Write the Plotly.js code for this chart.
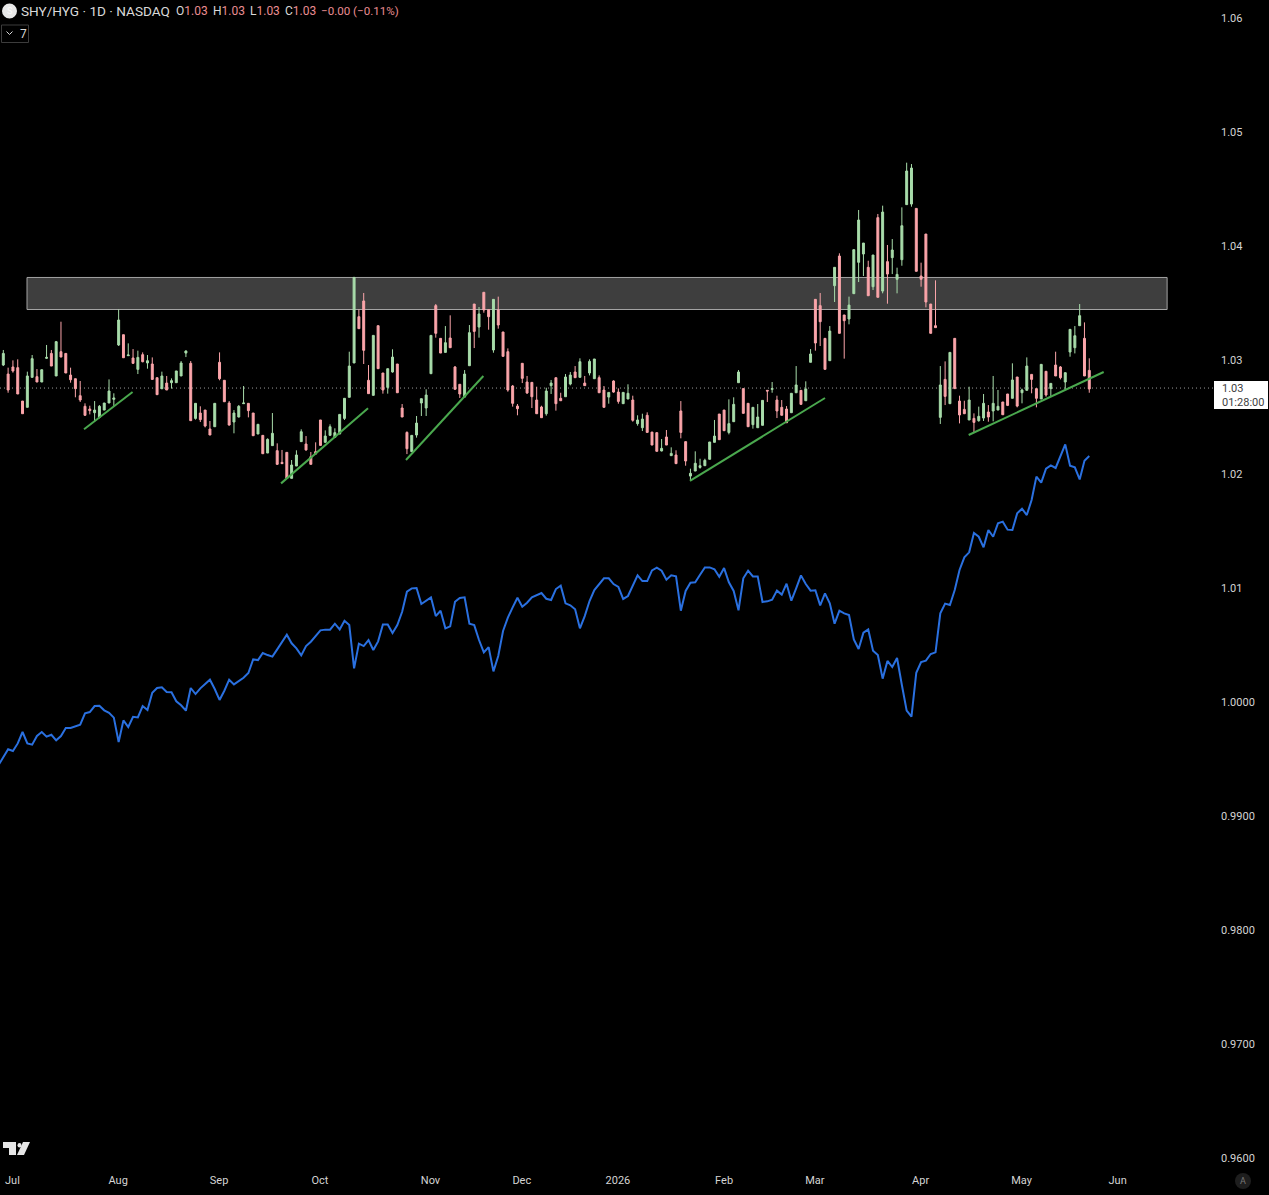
<!DOCTYPE html>
<html>
<head>
<meta charset="utf-8">
<script src="https://cdn.plot.ly/plotly-3.0.1.min.js"></script>
<style>html,body{margin:0;padding:0;background:#000;overflow:hidden}#chart{width:1269px;height:1195px}</style>
</head>
<body>
<div id="chart"></div>
<script>
const openPrice=[
1.02956,1.02877,1.02939,1.02933,1.02640,1.02585,1.02848,1.02854,1.02807,1.03015,
1.03058,1.02860,1.03073,1.03058,1.02868,1.02836,1.02687,1.02594,1.02570,1.02538,
1.02497,1.02561,1.02623,1.02655,1.03132,1.03222,1.03038,1.03018,1.02918,1.03047,
1.02974,1.02965,1.02845,1.02749,1.02798,1.02801,1.02801,1.02860,1.03061,1.02971,
1.02488,1.02535,1.02561,1.02395,1.02415,1.02980,1.02822,1.02623,1.02456,1.02500,
1.02617,1.02620,1.02535,1.02351,1.02339,1.02184,1.02249,1.02205,1.02102,1.02190,
1.01962,1.02070,1.02284,1.02263,1.02152,1.02196,1.02474,1.02278,1.02339,1.02322,
1.02351,1.02488,1.02673,1.02974,1.03380,1.03518,1.02822,1.02690,1.03301,1.02886,
1.02760,1.02895,1.02965,1.02579,1.02365,1.02196,1.02342,1.02623,1.02579,1.02880,
1.03477,1.03190,1.03067,1.03193,1.02939,1.02787,1.02675,1.02950,1.03491,1.03289,
1.03594,1.03442,1.03088,1.03439,1.03246,1.03073,1.02772,1.02596,1.02971,1.02807,
1.02804,1.02649,1.02588,1.02529,1.02775,1.02845,1.02664,1.02678,1.02789,1.02895,
1.02848,1.02798,1.02886,1.02836,1.02845,1.02737,1.02675,1.02816,1.02719,1.02617,
1.02658,1.02649,1.02442,1.02406,1.02515,1.02368,1.02363,1.02202,1.02325,1.02161,
1.02167,1.02553,1.02284,1.01982,1.02026,1.02058,1.02073,1.02129,1.02278,1.02526,
1.02561,1.02365,1.02459,1.02801,1.02749,1.02620,1.02433,1.02406,1.02427,1.02734,
1.02743,1.02649,1.02585,1.02570,1.02538,1.02713,1.02734,1.02643,1.02980,1.03532,
1.03477,1.03190,1.02994,1.03652,1.03912,1.03395,1.03360,1.03582,1.03857,1.03930,
1.03813,1.03643,1.04249,1.03605,1.03863,1.03898,1.03708,1.03880,1.04363,1.04368,
1.04330,1.03737,1.04105,1.03491,1.03301,1.02497,1.02830,1.02617,1.03190,1.02640,
1.02567,1.02474,1.02488,1.02468,1.02491,1.02544,1.02553,1.02561,1.02632,1.02702,
1.02664,1.02851,1.02713,1.02734,1.02874,1.02749,1.02658,1.02901,1.02749,1.02956,
1.02939,1.02807,1.03070,1.03108,1.03301,1.03190,1.02909];
const closePrice=[
1.03058,1.02737,1.02904,1.02702,1.02529,1.02860,1.03012,1.02807,1.02915,1.03023,
1.02947,1.03161,1.03026,1.02886,1.02827,1.02749,1.02649,1.02515,1.02556,1.02561,
1.02594,1.02623,1.02728,1.02667,1.03351,1.03020,1.03044,1.02971,1.03023,1.02985,
1.02994,1.02830,1.02696,1.02860,1.02737,1.02819,1.02904,1.02974,1.03079,1.02468,
1.02620,1.02477,1.02421,1.02342,1.02620,1.02836,1.02634,1.02430,1.02535,1.02594,
1.02623,1.02556,1.02336,1.02436,1.02178,1.02304,1.02357,1.02085,1.02091,1.01962,
1.02079,1.02167,1.02371,1.02211,1.02085,1.02175,1.02251,1.02333,1.02415,1.02363,
1.02523,1.02664,1.02947,1.03725,1.03275,1.03085,1.02705,1.03216,1.02924,1.02737,
1.02924,1.03026,1.02713,1.02500,1.02222,1.02339,1.02447,1.02661,1.02693,1.03216,
1.03234,1.03061,1.03152,1.03108,1.02743,1.02702,1.02877,1.03240,1.03251,1.03404,
1.03439,1.03380,1.03532,1.03307,1.03032,1.02737,1.02620,1.02573,1.02839,1.02711,
1.02678,1.02529,1.02494,1.02728,1.02798,1.02617,1.02643,1.02851,1.02868,1.02845,
1.02985,1.02775,1.02988,1.03009,1.02713,1.02585,1.02716,1.02719,1.02637,1.02716,
1.02708,1.02471,1.02474,1.02482,1.02365,1.02254,1.02199,1.02225,1.02254,1.02181,
1.02091,1.02365,1.02114,1.02006,1.02094,1.02073,1.02120,1.02281,1.02333,1.02301,
1.02380,1.02442,1.02611,1.02895,1.02532,1.02415,1.02585,1.02500,1.02646,1.02728,
1.02749,1.02553,1.02515,1.02450,1.02708,1.02781,1.02611,1.02746,1.03053,1.03149,
1.03336,1.02918,1.03254,1.03813,1.03234,1.03345,1.03482,1.03968,1.04228,1.04026,
1.03564,1.03921,1.03550,1.04298,1.03754,1.03965,1.03751,1.04178,1.04658,1.04684,
1.03778,1.03708,1.03509,1.03234,1.03284,1.02781,1.02681,1.03067,1.02749,1.02518,
1.02529,1.02649,1.02453,1.02506,1.02620,1.02500,1.02620,1.02594,1.02520,1.02602,
1.02825,1.02596,1.02737,1.02947,1.02830,1.02664,1.02962,1.02693,1.02795,1.02860,
1.02845,1.02889,1.03269,1.03213,1.03389,1.02860,1.02746];
const highPrice=[
1.03088,1.02933,1.02997,1.03006,1.02640,1.02898,1.03044,1.02921,1.02915,1.03132,
1.03088,1.03167,1.03336,1.03058,1.02933,1.02836,1.02816,1.02620,1.02599,1.02640,
1.02605,1.02623,1.02830,1.02708,1.03444,1.03222,1.03146,1.03096,1.03082,1.03067,
1.03044,1.03023,1.02845,1.02898,1.02860,1.02839,1.02904,1.02991,1.03085,1.02991,
1.02620,1.02594,1.02561,1.02465,1.02620,1.03067,1.02822,1.02640,1.02561,1.02605,
1.02772,1.02620,1.02535,1.02436,1.02339,1.02313,1.02535,1.02269,1.02211,1.02190,
1.02123,1.02208,1.02392,1.02333,1.02193,1.02278,1.02474,1.02383,1.02436,1.02401,
1.02523,1.02664,1.03073,1.03725,1.03444,1.03588,1.02956,1.03216,1.03301,1.02886,
1.02924,1.03094,1.02965,1.02614,1.02374,1.02339,1.02509,1.02661,1.02743,1.03216,
1.03491,1.03190,1.03298,1.03392,1.02947,1.02787,1.02912,1.03307,1.03491,1.03465,
1.03594,1.03442,1.03532,1.03556,1.03246,1.03102,1.02781,1.02614,1.02971,1.02860,
1.02804,1.02766,1.02599,1.02757,1.02825,1.02845,1.02713,1.02877,1.02895,1.02947,
1.03015,1.02860,1.03006,1.03009,1.02865,1.02772,1.02716,1.02822,1.02751,1.02716,
1.02787,1.02687,1.02515,1.02529,1.02541,1.02368,1.02363,1.02307,1.02386,1.02234,
1.02208,1.02640,1.02284,1.02047,1.02199,1.02134,1.02134,1.02281,1.02474,1.02526,
1.02561,1.02655,1.02673,1.02912,1.02749,1.02620,1.02585,1.02614,1.02646,1.02734,
1.02807,1.02687,1.02649,1.02596,1.02708,1.02947,1.02734,1.02813,1.03096,1.03532,
1.03588,1.03190,1.03298,1.03813,1.03936,1.03395,1.03556,1.03968,1.04316,1.04026,
1.03871,1.03921,1.04281,1.04354,1.04009,1.04061,1.03810,1.04339,1.04731,1.04719,
1.04330,1.03854,1.04105,1.03491,1.03699,1.02947,1.02988,1.03067,1.03190,1.02687,
1.02643,1.02766,1.02532,1.02591,1.02702,1.02605,1.02860,1.02737,1.02632,1.02702,
1.02971,1.02851,1.02749,1.03023,1.02874,1.02749,1.02962,1.02901,1.02795,1.03073,
1.02947,1.02889,1.03269,1.03298,1.03491,1.03330,1.03015];
const lowPrice=[
1.02947,1.02713,1.02889,1.02702,1.02529,1.02585,1.02848,1.02807,1.02807,1.03009,
1.02947,1.02860,1.03026,1.02886,1.02801,1.02673,1.02632,1.02512,1.02523,1.02459,
1.02488,1.02561,1.02623,1.02596,1.03123,1.03020,1.03035,1.02965,1.02877,1.02980,
1.02924,1.02825,1.02696,1.02743,1.02737,1.02749,1.02801,1.02860,1.03026,1.02468,
1.02477,1.02456,1.02409,1.02342,1.02415,1.02822,1.02634,1.02424,1.02357,1.02497,
1.02617,1.02497,1.02336,1.02351,1.02178,1.02184,1.02249,1.02079,1.02091,1.01962,
1.01962,1.02070,1.02284,1.02205,1.02085,1.02175,1.02249,1.02275,1.02339,1.02322,
1.02351,1.02474,1.02673,1.02974,1.03275,1.02965,1.02705,1.02690,1.02924,1.02705,
1.02705,1.02889,1.02713,1.02500,1.02175,1.02196,1.02319,1.02509,1.02509,1.02880,
1.03196,1.03061,1.03067,1.03108,1.02743,1.02667,1.02675,1.02950,1.03105,1.03196,
1.03415,1.03266,1.03064,1.03275,1.03032,1.02722,1.02591,1.02515,1.02798,1.02702,
1.02579,1.02529,1.02494,1.02512,1.02702,1.02556,1.02643,1.02678,1.02778,1.02845,
1.02848,1.02775,1.02865,1.02836,1.02713,1.02585,1.02617,1.02713,1.02617,1.02617,
1.02658,1.02459,1.02424,1.02377,1.02365,1.02254,1.02199,1.02199,1.02254,1.02161,
1.02091,1.02313,1.02073,1.01942,1.02026,1.02047,1.02073,1.02129,1.02278,1.02301,
1.02380,1.02348,1.02459,1.02801,1.02532,1.02415,1.02398,1.02406,1.02427,1.02632,
1.02713,1.02491,1.02515,1.02450,1.02538,1.02713,1.02611,1.02643,1.02980,1.03082,
1.03123,1.02918,1.02994,1.03509,1.03234,1.03012,1.03313,1.03582,1.03684,1.03737,
1.03564,1.03614,1.03550,1.03585,1.03494,1.03754,1.03585,1.03827,1.04363,1.04345,
1.03778,1.03643,1.03462,1.03234,1.03284,1.02439,1.02605,1.02617,1.02749,1.02444,
1.02526,1.02474,1.02363,1.02459,1.02465,1.02459,1.02462,1.02561,1.02520,1.02596,
1.02664,1.02585,1.02620,1.02734,1.02708,1.02585,1.02658,1.02678,1.02684,1.02860,
1.02830,1.02737,1.03029,1.03058,1.03301,1.02860,1.02713];
/* blue comparison line: first value is the session before the first candle */
const lineValue=[
0.99447,0.99520,0.99585,0.99570,0.99637,0.99737,0.99637,0.99626,0.99702,0.99737,0.99696,
0.99713,0.99664,0.99702,0.99772,0.99772,0.99789,0.99801,0.99901,0.99912,0.99965,
0.99968,0.99927,0.99906,0.99863,0.99649,0.99839,0.99781,0.99871,0.99865,0.99965,
0.99930,1.00082,1.00123,1.00129,1.00088,1.00085,1.00006,0.99971,0.99924,1.00123,
1.00070,1.00120,1.00155,1.00196,1.00114,1.00018,1.00099,1.00196,1.00155,1.00181,
1.00213,1.00254,1.00374,1.00368,1.00430,1.00412,1.00398,1.00462,1.00532,1.00591,
1.00515,1.00471,1.00409,1.00491,1.00529,1.00582,1.00629,1.00635,1.00635,1.00687,
1.00637,1.00713,1.00675,1.00295,1.00512,1.00491,1.00544,1.00456,1.00532,1.00681,
1.00681,1.00605,1.00675,1.00792,1.00968,1.00997,1.01000,1.00860,1.00889,1.00918,
1.00754,1.00801,1.00646,1.00664,1.00880,1.00912,1.00918,1.00687,1.00675,1.00544,
1.00436,1.00482,1.00269,1.00404,1.00623,1.00740,1.00830,1.00915,1.00836,1.00871,
1.00918,1.00936,1.00956,1.00906,1.00895,1.00991,1.01020,1.00866,1.00848,1.00813,
1.00646,1.00754,1.00886,1.00982,1.01035,1.01085,1.01085,1.01035,1.01009,1.00904,
1.00930,1.01023,1.01111,1.01061,1.01061,1.01155,1.01178,1.01152,1.01073,1.01111,
1.01102,1.00801,1.00974,1.01047,1.01050,1.01117,1.01181,1.01181,1.01164,1.01099,
1.01175,1.01050,1.00974,1.00804,1.01085,1.01152,1.01102,1.01102,1.00877,1.00883,
1.00898,1.00977,1.00942,1.01038,1.00889,1.00997,1.01111,1.01035,1.00977,1.00980,
1.00848,1.00953,1.00866,1.00687,1.00801,1.00778,1.00763,1.00550,1.00465,1.00608,
1.00637,1.00450,1.00412,1.00205,1.00360,1.00307,1.00386,1.00149,0.99924,0.99871,
1.00257,1.00351,1.00363,1.00421,1.00436,1.00778,1.00863,1.00851,1.00982,1.01158,
1.01269,1.01313,1.01482,1.01450,1.01357,1.01509,1.01450,1.01567,1.01582,1.01512,
1.01509,1.01655,1.01696,1.01640,1.01772,1.01977,1.01924,1.02047,1.02076,1.02053,
1.02152,1.02260,1.02073,1.02059,1.01953,1.02117,1.02158];
const monthIndex=[1.9,23.9,44.9,65.9,88.9,107.9,127.9,150,168.9,190.9,211.9,231.9];
const monthLabels=["Jul","Aug","Sep","Oct","Nov","Dec","2026","Feb","Mar","Apr","May","Jun"];
const priceTicks=[1.06,1.05,1.04,1.03,1.02,1.01,1.00,0.99,0.98,0.97,0.96];
const priceLabels=["1.06","1.05","1.04","1.03","1.02","1.01","1.0000","0.9900","0.9800","0.9700","0.9600"];
const trendStartIndex=[16.8,57.8,83.8,142.9,200.9];
const trendEndIndex=[26.9,75.9,99.9,171.0,229.0];
const trendStartPrice=[1.02392,1.01918,1.02123,1.01939,1.02342];
const trendEndPrice=[1.02719,1.02576,1.02860,1.02667,1.02895];
const zoneIndex=[4.93,242.2];
const zonePrice=[1.03443,1.03724];
const lastPrice=1.02754;

const W=1213,H=1170;
const ax=p=>p/W, ay=p=>1-p/H;
const idx=openPrice.map((_,i)=>i);
const traces=[
 {type:'scatter',mode:'lines',x:lineValue.map((_,i)=>i-1),y:lineValue,
  line:{color:'#2a70e0',width:2},hoverinfo:'skip'},
 {type:'candlestick',x:idx,open:openPrice,high:highPrice,low:lowPrice,close:closePrice,
  whiskerwidth:0,hoverinfo:'skip',
  increasing:{line:{color:'#a8dcaa',width:1},fillcolor:'#a8dcaa'},
  decreasing:{line:{color:'#fba5aa',width:1},fillcolor:'#fba5aa'}}
];
trendStartIndex.forEach((x0,k)=>traces.push({type:'scatter',mode:'lines',
  x:[x0,trendEndIndex[k]],y:[trendStartPrice[k],trendEndPrice[k]],
  line:{color:'#4aa84e',width:2},hoverinfo:'skip'}));

const F='Roboto, sans-serif', P='#ea8d92', T='#d9d9d9';
const pap=(t,x,y,o)=>Object.assign({xref:'paper',yref:'paper',x:ax(x),y:ay(y),text:t,showarrow:false,xanchor:'left',yanchor:'middle',borderpad:0,font:{family:F,size:13,color:T}},o||{});
const poly=pts=>'M'+pts.map(p=>ax(p[0])+','+ay(p[1])).join('L')+'Z';
const open=pts=>'M'+pts.map(p=>ax(p[0])+','+ay(p[1])).join('L');
const S=(c,t)=>`<span style="color:${c}">${t}</span>`;
const ohlc=(l,x)=>pap(S(T,l)+S(P,'1.03'),x,11,{font:{family:F,size:12,color:T}});
const logo='#e6e6e6';
const layout={
 width:1269,height:1195,paper_bgcolor:'#000',plot_bgcolor:'#000',showlegend:false,
 margin:{l:0,r:1269-W,t:0,b:1195-H,pad:0},
 boxgap:0.42,
 xaxis:{range:[-0.69,251.75],tickmode:'array',tickvals:monthIndex,ticktext:monthLabels,showgrid:false,zeroline:false,showline:false,
   ticks:'',rangeslider:{visible:false},tickfont:{family:F,size:11,color:'#d4d4d4'},ticklabelstandoff:2},
 yaxis:{range:[0.95895,1.06158],side:'right',tickmode:'array',tickvals:priceTicks,ticktext:priceLabels,showgrid:false,zeroline:false,showline:false,
   ticks:'',tickfont:{family:F,size:11,color:'#d4d4d4'},ticklabelstandoff:7},
 shapes:[
  {type:'rect',layer:'below',xref:'x',yref:'y',x0:zoneIndex[0],x1:zoneIndex[1],y0:zonePrice[0],y1:zonePrice[1],fillcolor:'#3e3e3e',line:{color:'#a3a3a3',width:1}},
  {type:'line',layer:'below',xref:'paper',yref:'y',x0:0,x1:1,y0:lastPrice,y1:lastPrice,line:{color:'#9a9a9a',width:1,dash:'1px,3px'}},
  {type:'circle',xref:'paper',yref:'paper',x0:ax(2),x1:ax(17),y0:ay(18.5),y1:ay(3.5),fillcolor:'#e8e8e8',line:{width:0}},
  {type:'rect',xref:'paper',yref:'paper',x0:ax(1.5),x1:ax(28.5),y0:ay(42.5),y1:ay(25),line:{color:'#3c3c3c',width:1}},
  {type:'path',xref:'paper',yref:'paper',path:open([[6.5,31.5],[9.5,34.5],[12.5,31.5]]),line:{color:T,width:1}},
  {type:'path',xref:'paper',yref:'paper',path:poly([[3,1142],[16,1142],[16,1155],[9,1155],[9,1148],[3,1148]]),fillcolor:logo,line:{width:0}},
  {type:'circle',xref:'paper',yref:'paper',x0:ax(17.5),x1:ax(21.5),y0:ay(1147.5),y1:ay(1143),fillcolor:logo,line:{width:0}},
  {type:'path',xref:'paper',yref:'paper',path:poly([[23,1142],[30,1142],[24,1155],[17,1155]]),fillcolor:logo,line:{width:0}},
  {type:'circle',xref:'paper',yref:'paper',x0:ax(1235),x1:ax(1251),y0:ay(1189),y1:ay(1173),fillcolor:'#1e1e1e',line:{width:0}},
  {type:'rect',xref:'paper',yref:'paper',x0:ax(1214),x1:ax(1268),y0:ay(409),y1:ay(381),fillcolor:'#ffffff',line:{width:0}}
 ],
 annotations:[
  pap('SHY/HYG · 1D · NASDAQ',19.5,11,{font:{family:F,size:13.6,color:T}}),
  ohlc('O',175),ohlc('H',212),ohlc('L',249),ohlc('C',284),
  pap('−0.00 (−0.11%)',320,11,{font:{family:F,size:11.6,color:P}}),
  pap('S',9.5,11,{xanchor:'center',font:{family:F,size:9,color:'#fafafa'}}),
  pap('7',19,33.5,{font:{family:F,size:12,color:T}}),
  pap('A',1243,1181,{xanchor:'center',font:{family:F,size:9,color:'#777777'}}),
  pap('1.03',1221,389,{font:{family:F,size:11,color:'#404040'}}),
  pap('01:28:00',1221,402,{font:{family:F,size:11,color:'#404040'}})
 ]
};
Plotly.newPlot('chart',traces,layout,{displayModeBar:false,staticPlot:true});
</script>
</body>
</html>
